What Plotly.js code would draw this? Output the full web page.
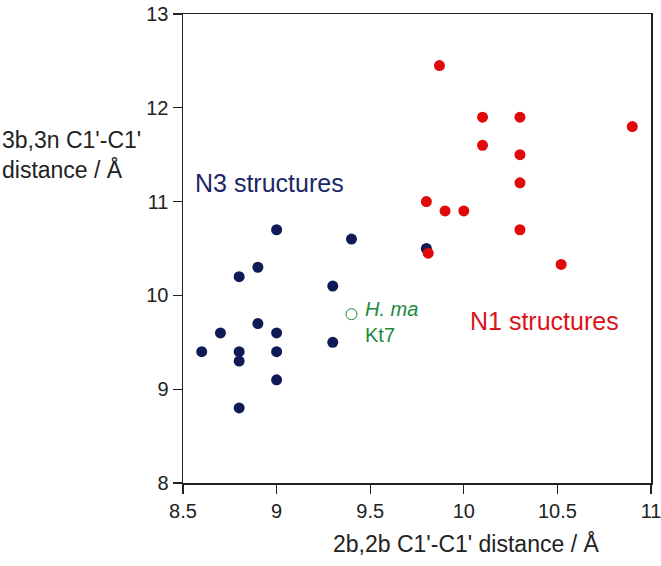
<!DOCTYPE html>
<html>
<head>
<meta charset="utf-8">
<script src="https://cdn.plot.ly/plotly-3.0.1.min.js"></script>
<style>html,body{margin:0;padding:0;background:#fff;}#chart{width:661px;height:566px;}</style>
</head>
<body>
<div id="chart"></div>
<script>
// N3 structures (navy)
const n3X = [9.0, 9.4, 9.8, 8.9, 8.8, 9.3, 8.9, 8.7, 9.0, 9.3, 8.6, 8.8, 9.0, 8.8, 9.0, 8.8];
const n3Y = [10.7, 10.6, 10.5, 10.3, 10.2, 10.1, 9.7, 9.6, 9.6, 9.5, 9.4, 9.4, 9.4, 9.3, 9.1, 8.8];
// N1 structures (red)
const n1X = [9.87, 10.1, 10.3, 10.9, 10.1, 10.3, 10.3, 9.8, 9.9, 10.0, 10.3, 9.81, 10.52];
const n1Y = [12.45, 11.9, 11.9, 11.8, 11.6, 11.5, 11.2, 11.0, 10.9, 10.9, 10.7, 10.45, 10.33];
// H. ma Kt7 (green open)
const kt7X = [9.4];
const kt7Y = [9.8];

const xTicks = [8.5, 9, 9.5, 10, 10.5, 11];
const yTicks = [8, 9, 10, 11, 12, 13];

const NAVY = '#0f1a57';
const RED = '#e00a0a';
const GREEN = '#1b8a3a';
const FONT = 'Liberation Sans, Arial, sans-serif';

const traces = [
  {x: n3X, y: n3Y, type: 'scatter', mode: 'markers', name: 'N3 structures',
   marker: {color: NAVY, size: 11, line: {width: 0}}},
  {x: n1X, y: n1Y, type: 'scatter', mode: 'markers', name: 'N1 structures',
   marker: {color: RED, size: 11, line: {width: 0}}},
  {x: kt7X, y: kt7Y, type: 'scatter', mode: 'markers', name: 'H. ma Kt7',
   marker: {symbol: 'circle-open', color: GREEN, size: 11, line: {width: 1}}}
];

const axisCommon = {
  showgrid: false, zeroline: false, showline: true, linecolor: '#222', linewidth: 1.5,
  mirror: true, ticks: 'outside', ticklen: 9, tickwidth: 1.2, tickcolor: '#222',
  ticklabeloverflow: 'allow',
  tickfont: {family: FONT, size: 20, color: '#222'}
};

const layout = {
  width: 661, height: 566,
  margin: {l: 183, r: 10, t: 14, b: 83},
  paper_bgcolor: '#fff', plot_bgcolor: '#fff',
  showlegend: false,
  font: {family: FONT},
  xaxis: Object.assign({}, axisCommon, {range: [8.5, 11], tickvals: xTicks, ticktext: xTicks.map(String)}),
  yaxis: Object.assign({}, axisCommon, {range: [8, 13], tickvals: yTicks, ticktext: yTicks.map(String)}),
  annotations: [
    {text: 'N3 structures', xref: 'x', yref: 'y', x: 8.555, y: 11.2, xanchor: 'left', yanchor: 'middle',
     showarrow: false, font: {family: FONT, size: 25, color: '#1c2766'}},
    {text: 'N1 structures', xref: 'x', yref: 'y', x: 10.43, y: 9.73, xanchor: 'center', yanchor: 'middle',
     showarrow: false, font: {family: FONT, size: 25, color: '#d9141b'}},
    {text: '<i>H. ma</i>', xref: 'x', yref: 'y', x: 9.46, y: 9.85, xanchor: 'left', yanchor: 'middle',
     showarrow: false, font: {family: FONT, size: 20, color: GREEN}},
    {text: 'Kt7', xref: 'x', yref: 'y', x: 9.46, y: 9.58, xanchor: 'left', yanchor: 'middle',
     showarrow: false, font: {family: FONT, size: 20, color: GREEN}},
    {text: "2b,2b C1'-C1' distance / Å", xref: 'paper', yref: 'paper', x: 0.316, y: -0.128,
     xanchor: 'left', yanchor: 'middle', showarrow: false, font: {family: FONT, size: 23, color: '#222'}},
    {text: "3b,3n C1'-C1'<br>distance / Å", xref: 'paper', yref: 'paper', x: -0.391, y: 0.70,
     xanchor: 'left', yanchor: 'middle', align: 'left', showarrow: false,
     font: {family: FONT, size: 23, color: '#222'}}
  ]
};

Plotly.newPlot('chart', traces, layout, {displayModeBar: false, staticPlot: true});
</script>
</body>
</html>
